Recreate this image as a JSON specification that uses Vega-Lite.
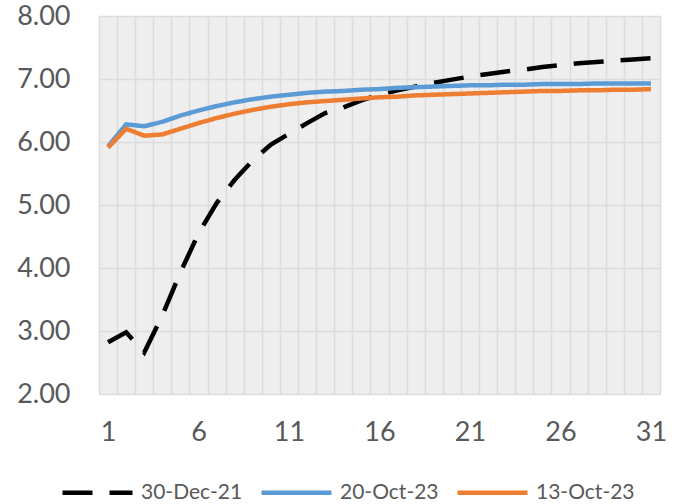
{
  "$schema": "https://vega.github.io/schema/vega-lite/v6.json",
  "width": 561,
  "height": 378,
  "autosize": "none",
  "padding": {"left": 99, "top": 16, "right": 18, "bottom": 110},
  "background": "#ffffff",
  "config": {
    "view": {"stroke": null, "fill": "#eeeeee"},
    "font": "Lato"
  },
  "data": {
    "values": [
      {"x": 1, "v": 2.82, "s": "30-Dec-21"}, {"x": 2, "v": 2.98, "s": "30-Dec-21"}, {"x": 3, "v": 2.66, "s": "30-Dec-21"},
      {"x": 4, "v": 3.25, "s": "30-Dec-21"}, {"x": 5, "v": 3.93, "s": "30-Dec-21"}, {"x": 6, "v": 4.55, "s": "30-Dec-21"},
      {"x": 7, "v": 5.03, "s": "30-Dec-21"}, {"x": 8, "v": 5.4, "s": "30-Dec-21"}, {"x": 9, "v": 5.71, "s": "30-Dec-21"},
      {"x": 10, "v": 5.96, "s": "30-Dec-21"}, {"x": 11, "v": 6.13, "s": "30-Dec-21"}, {"x": 12, "v": 6.3, "s": "30-Dec-21"},
      {"x": 13, "v": 6.46, "s": "30-Dec-21"}, {"x": 14, "v": 6.55, "s": "30-Dec-21"}, {"x": 15, "v": 6.66, "s": "30-Dec-21"},
      {"x": 16, "v": 6.75, "s": "30-Dec-21"}, {"x": 17, "v": 6.82, "s": "30-Dec-21"}, {"x": 18, "v": 6.88, "s": "30-Dec-21"},
      {"x": 19, "v": 6.94, "s": "30-Dec-21"}, {"x": 20, "v": 6.99, "s": "30-Dec-21"}, {"x": 21, "v": 7.04, "s": "30-Dec-21"},
      {"x": 22, "v": 7.08, "s": "30-Dec-21"}, {"x": 23, "v": 7.12, "s": "30-Dec-21"}, {"x": 24, "v": 7.15, "s": "30-Dec-21"},
      {"x": 25, "v": 7.19, "s": "30-Dec-21"}, {"x": 26, "v": 7.22, "s": "30-Dec-21"}, {"x": 27, "v": 7.25, "s": "30-Dec-21"},
      {"x": 28, "v": 7.27, "s": "30-Dec-21"}, {"x": 29, "v": 7.29, "s": "30-Dec-21"}, {"x": 30, "v": 7.31, "s": "30-Dec-21"},
      {"x": 31, "v": 7.33, "s": "30-Dec-21"},
      {"x": 1, "v": 5.93, "s": "20-Oct-23"}, {"x": 2, "v": 6.28, "s": "20-Oct-23"}, {"x": 3, "v": 6.25, "s": "20-Oct-23"},
      {"x": 4, "v": 6.32, "s": "20-Oct-23"}, {"x": 5, "v": 6.42, "s": "20-Oct-23"}, {"x": 6, "v": 6.5, "s": "20-Oct-23"},
      {"x": 7, "v": 6.57, "s": "20-Oct-23"}, {"x": 8, "v": 6.63, "s": "20-Oct-23"}, {"x": 9, "v": 6.68, "s": "20-Oct-23"},
      {"x": 10, "v": 6.72, "s": "20-Oct-23"}, {"x": 11, "v": 6.75, "s": "20-Oct-23"}, {"x": 12, "v": 6.78, "s": "20-Oct-23"},
      {"x": 13, "v": 6.8, "s": "20-Oct-23"}, {"x": 14, "v": 6.81, "s": "20-Oct-23"}, {"x": 15, "v": 6.83, "s": "20-Oct-23"},
      {"x": 16, "v": 6.84, "s": "20-Oct-23"}, {"x": 17, "v": 6.86, "s": "20-Oct-23"}, {"x": 18, "v": 6.87, "s": "20-Oct-23"},
      {"x": 19, "v": 6.88, "s": "20-Oct-23"}, {"x": 20, "v": 6.89, "s": "20-Oct-23"}, {"x": 21, "v": 6.9, "s": "20-Oct-23"},
      {"x": 22, "v": 6.9, "s": "20-Oct-23"}, {"x": 23, "v": 6.91, "s": "20-Oct-23"}, {"x": 24, "v": 6.91, "s": "20-Oct-23"},
      {"x": 25, "v": 6.92, "s": "20-Oct-23"}, {"x": 26, "v": 6.92, "s": "20-Oct-23"}, {"x": 27, "v": 6.92, "s": "20-Oct-23"},
      {"x": 28, "v": 6.93, "s": "20-Oct-23"}, {"x": 29, "v": 6.93, "s": "20-Oct-23"}, {"x": 30, "v": 6.93, "s": "20-Oct-23"},
      {"x": 31, "v": 6.93, "s": "20-Oct-23"},
      {"x": 1, "v": 5.91, "s": "13-Oct-23"}, {"x": 2, "v": 6.21, "s": "13-Oct-23"}, {"x": 3, "v": 6.1, "s": "13-Oct-23"},
      {"x": 4, "v": 6.12, "s": "13-Oct-23"}, {"x": 5, "v": 6.21, "s": "13-Oct-23"}, {"x": 6, "v": 6.3, "s": "13-Oct-23"},
      {"x": 7, "v": 6.38, "s": "13-Oct-23"}, {"x": 8, "v": 6.45, "s": "13-Oct-23"}, {"x": 9, "v": 6.51, "s": "13-Oct-23"},
      {"x": 10, "v": 6.56, "s": "13-Oct-23"}, {"x": 11, "v": 6.6, "s": "13-Oct-23"}, {"x": 12, "v": 6.63, "s": "13-Oct-23"},
      {"x": 13, "v": 6.65, "s": "13-Oct-23"}, {"x": 14, "v": 6.67, "s": "13-Oct-23"}, {"x": 15, "v": 6.69, "s": "13-Oct-23"},
      {"x": 16, "v": 6.71, "s": "13-Oct-23"}, {"x": 17, "v": 6.72, "s": "13-Oct-23"}, {"x": 18, "v": 6.74, "s": "13-Oct-23"},
      {"x": 19, "v": 6.75, "s": "13-Oct-23"}, {"x": 20, "v": 6.76, "s": "13-Oct-23"}, {"x": 21, "v": 6.77, "s": "13-Oct-23"},
      {"x": 22, "v": 6.78, "s": "13-Oct-23"}, {"x": 23, "v": 6.79, "s": "13-Oct-23"}, {"x": 24, "v": 6.8, "s": "13-Oct-23"},
      {"x": 25, "v": 6.81, "s": "13-Oct-23"}, {"x": 26, "v": 6.81, "s": "13-Oct-23"}, {"x": 27, "v": 6.82, "s": "13-Oct-23"},
      {"x": 28, "v": 6.82, "s": "13-Oct-23"}, {"x": 29, "v": 6.83, "s": "13-Oct-23"}, {"x": 30, "v": 6.83, "s": "13-Oct-23"},
      {"x": 31, "v": 6.84, "s": "13-Oct-23"}
    ]
  },
  "mark": {"type": "line", "strokeWidth": 4.5, "clip": true},
  "encoding": {
    "x": {
      "field": "x",
      "type": "quantitative",
      "scale": {"domain": [0.5, 31.5], "nice": false, "zero": false},
      "axis": {
        "title": null,
        "values": [0.5, 1, 1.5, 2.5, 3.5, 4.5, 5.5, 6, 6.5, 7.5, 8.5, 9.5, 10.5, 11, 11.5, 12.5, 13.5, 14.5, 15.5, 16, 16.5, 17.5, 18.5, 19.5, 20.5, 21, 21.5, 22.5, 23.5, 24.5, 25.5, 26, 26.5, 27.5, 28.5, 29.5, 30.5, 31, 31.5],
        "labelExpr": "datum.value % 1 === 0 ? datum.label : ''",
        "labelOverlap": false,
        "labelFlush": false,
        "labelFontSize": 27,
        "labelColor": "#595959",
        "labelPadding": 25,
        "ticks": false,
        "domain": false,
        "grid": true,
        "gridColor": "#dcdcdc",
        "gridWidth": 1.5,
        "gridOpacity": {"condition": {"test": "datum.value % 1 !== 0", "value": 1}, "value": 0}
      }
    },
    "y": {
      "field": "v",
      "type": "quantitative",
      "scale": {"domain": [2, 8], "nice": false, "zero": false},
      "axis": {
        "title": null,
        "values": [2, 3, 4, 5, 6, 7, 8],
        "format": ".2f",
        "labelFontSize": 27,
        "labelColor": "#595959",
        "labelPadding": 29,
        "ticks": false,
        "domain": false,
        "gridColor": "#dcdcdc",
        "gridWidth": 1.5
      }
    },
    "color": {
      "field": "s",
      "type": "nominal",
      "sort": null,
      "scale": {"domain": ["30-Dec-21", "20-Oct-23", "13-Oct-23"], "range": ["#000000", "#5b9bd5", "#ed7d31"]},
      "legend": {
        "title": null,
        "orient": "none",
        "legendX": -39,
        "legendY": 439,
        "direction": "horizontal",
        "columns": 3,
        "columnPadding": 9,
        "symbolType": "stroke",
        "symbolSize": 4900,
        "symbolStrokeWidth": 4.5,
        "labelFontSize": 21,
        "labelColor": "#595959",
        "labelOffset": 6
      }
    },
    "strokeDash": {
      "field": "s",
      "type": "nominal",
      "sort": null,
      "scale": {"domain": ["30-Dec-21", "20-Oct-23", "13-Oct-23"], "range": [[30, 17], [1, 0], [1, 0]]},
      "legend": {
        "title": null,
        "orient": "none",
        "legendX": -39,
        "legendY": 439,
        "direction": "horizontal",
        "columns": 3,
        "columnPadding": 9,
        "symbolType": "stroke",
        "symbolSize": 4900,
        "symbolStrokeWidth": 4.5,
        "labelFontSize": 21,
        "labelColor": "#595959",
        "labelOffset": 6
      }
    }
  }
}
